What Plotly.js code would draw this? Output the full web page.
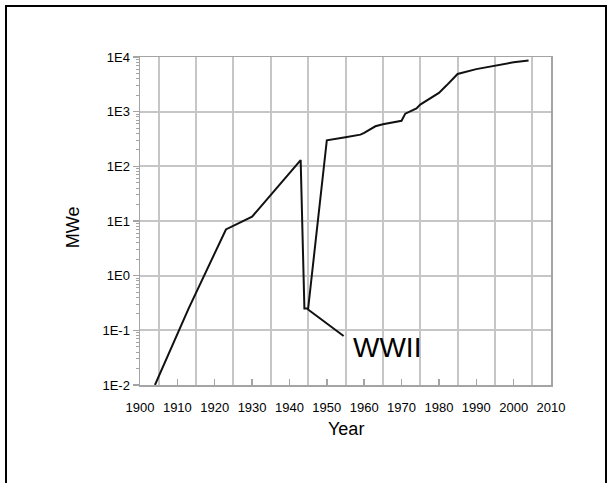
<!DOCTYPE html>
<html>
<head>
<meta charset="utf-8">
<script src="https://cdn.plot.ly/plotly-3.0.1.min.js"></script>
<style>
  html, body { margin: 0; padding: 0; background: #fff; overflow: hidden; }
  #frame { position: absolute; left: 5px; top: 5px; width: 602px; height: 500px; border: 2.5px solid #000; box-sizing: border-box; pointer-events: none; z-index: 5; }
  #chart { position: absolute; left: 0; top: 0; width: 613px; height: 483px; }
</style>
</head>
<body>
<div id="chart"></div>
<div id="frame"></div>
<script>
// Data
const years = [1904, 1913, 1923, 1930, 1943, 1944, 1945, 1950, 1955, 1959, 1960, 1963, 1965, 1970, 1971, 1974, 1975, 1978, 1980, 1982, 1985, 1990, 1995, 2000, 2004];
const mwe   = [0.01, 0.25, 7, 12, 130, 0.25, 0.25, 300, 340, 380, 410, 540, 590, 680, 920, 1150, 1350, 1800, 2200, 3000, 4900, 6000, 7000, 8000, 8600];

const yTickVals = [0.01, 0.1, 1, 10, 100, 1000, 10000];
const yTickText = ['1E-2', '1E-1', '1E0', '1E1', '1E2', '1E3', '1E4'];

const pointerX = [1944.8, 1954.5];
const pointerY = [0.245, 0.079];
const noteText = 'WWII';
const noteX = 1956.5;
const noteY = 0.048;

const xTitle = 'Year';
const yTitle = 'MWe';

const gridColor = '#c6c6c6';
const axisColor = '#a4a4a4';

const traces = [
  { x: years, y: mwe, mode: 'lines', line: { color: '#111', width: 2 }, hoverinfo: 'skip' },
  { x: pointerX, y: pointerY, mode: 'lines', line: { color: '#111', width: 2 }, hoverinfo: 'skip' }
];

const layout = {
  width: 613, height: 483,
  margin: { l: 139.5, r: 62, t: 57, b: 98 },
  paper_bgcolor: '#fff', plot_bgcolor: '#fff',
  showlegend: false,
  font: { family: 'Liberation Sans, Arial, sans-serif', color: '#000', size: 13 },
  xaxis: {
    range: [1900, 2010],
    tickmode: 'linear', tick0: 1900, dtick: 10,
    showgrid: false, zeroline: false,
    showline: true, linecolor: axisColor, linewidth: 1.5, mirror: true,
    ticks: 'inside', ticklen: 6, tickcolor: axisColor, tickwidth: 1.5,
    ticklabelstandoff: 10,
    minor: { tickmode: 'linear', tick0: 1905, dtick: 10, showgrid: true, gridcolor: gridColor, gridwidth: 2, ticks: '' },
    tickfont: { size: 13 }
  },
  yaxis: {
    type: 'log', range: [-2, 4],
    tickmode: 'array', tickvals: yTickVals, ticktext: yTickText,
    showgrid: true, gridcolor: gridColor, gridwidth: 2, zeroline: false,
    showline: true, linecolor: axisColor, linewidth: 1.5, mirror: true,
    ticks: 'outside', ticklen: 6, tickcolor: axisColor, tickwidth: 1.5,
    minor: { tickmode: 'linear', dtick: 'D1', ticks: 'outside', ticklen: 3, tickcolor: axisColor, tickwidth: 1, showgrid: false },
    tickfont: { size: 13 }
  },
  annotations: [
    { x: noteX, y: Math.log10(noteY), xref: 'x', yref: 'y', text: noteText, showarrow: false,
      xanchor: 'left', yanchor: 'middle', font: { size: 28, color: '#000' } },
    { x: 0.5, y: -0.135, xref: 'paper', yref: 'paper', text: xTitle, showarrow: false,
      xanchor: 'center', yanchor: 'middle', font: { size: 18, color: '#000' } },
    { x: -0.164, y: 0.48, xref: 'paper', yref: 'paper', text: yTitle, showarrow: false, textangle: -90,
      xanchor: 'center', yanchor: 'middle', font: { size: 18, color: '#000' } }
  ]
};

Plotly.newPlot('chart', traces, layout, { displayModeBar: false, staticPlot: true });
</script>
</body>
</html>
